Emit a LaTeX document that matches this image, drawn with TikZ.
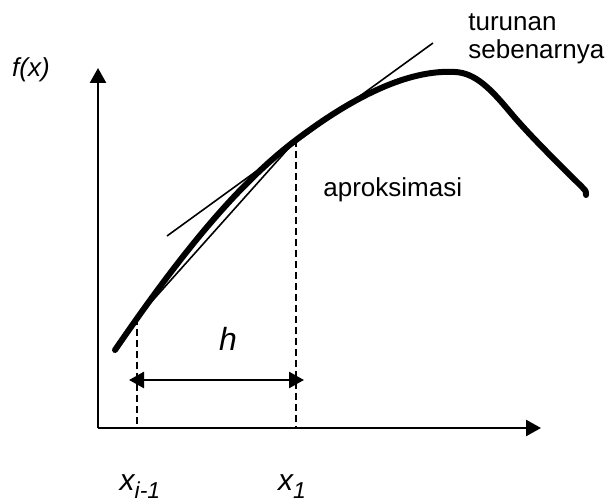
\documentclass[tikz,border=0pt]{standalone}
\usepackage{fontspec}
\setmainfont{Liberation Sans}
\usetikzlibrary{arrows.meta}

\begin{document}
\begin{tikzpicture}[x=0.5pt, y=-0.5pt, >={Triangle[length=7.5pt, width=8pt]},
    axis/.style={line width=1.3pt},
    curveline/.style={line width=3pt, line cap=round, line join=round},
    thinline/.style={line width=0.8pt},
    guide/.style={line width=0.8pt, dash pattern=on 3.5pt off 2pt},
    lbl/.style={inner sep=0pt, font=\fontsize{13}{15}\selectfont}]
    \useasboundingbox (0, 0) rectangle (610, 501);

    % 坐标点
    \coordinate (O) at (98, 428);
    \coordinate (Ytop) at (98, 68);
    \coordinate (Xend) at (541, 428);
    \coordinate (A) at (137, 318);
    \coordinate (B) at (296, 140);
    \coordinate (A0) at (137, 428);
    \coordinate (B0) at (296, 428);
    \coordinate (T1) at (167, 236);
    \coordinate (T2) at (433, 43);
    \coordinate (H1) at (129, 380);
    \coordinate (H2) at (304, 380);

    % 坐标轴
    \draw[axis, ->] (O) -- (Ytop);
    \draw[axis, ->] (O) -- (Xend);

    % 虚线
    \draw[guide] (A) -- (A0);
    \draw[guide] (B) -- (B0);

    % 切线与割线
    \draw[thinline] (T1) -- (T2);
    \draw[thinline] (A) -- (B);

    % 曲线 f(x)
    \draw[curveline] (115, 350) .. controls (170, 270) and (230, 190) .. (B)
        .. controls (370, 84) and (420, 70) .. (455, 72)
        .. controls (475, 73) and (490, 88) .. (510, 112)
        .. controls (530, 136) and (560, 165) .. (582, 187)
        .. controls (586, 191) .. (586, 195);

    % 步长 h
    \draw[axis, <->] (H1) -- (H2);

    % 标注
    \node[lbl] (fx) at (31, 70) {\itshape f(x)};
    \node[lbl, anchor=base west] (trn) at (468, 31) {turunan};
    \node[lbl, anchor=base west] (sbn) at (468, 59) {sebenarnya};
    \node[lbl, anchor=base west] (apr) at (323, 197) {aproksimasi};
    \node[lbl, font=\fontsize{16}{18}\selectfont] (hlbl) at (228, 339) {\itshape h};
    \node[lbl, anchor=base, font=\fontsize{15}{17}\selectfont] (xa) at (140, 491)
        {\itshape x\raisebox{-0.45ex}{\fontsize{11.5}{13}\selectfont i-1}};
    \node[lbl, anchor=base, font=\fontsize{15}{17}\selectfont] (xb) at (292, 491)
        {\itshape x\raisebox{-0.45ex}{\fontsize{11.5}{13}\selectfont 1}};
\end{tikzpicture}
\end{document}
